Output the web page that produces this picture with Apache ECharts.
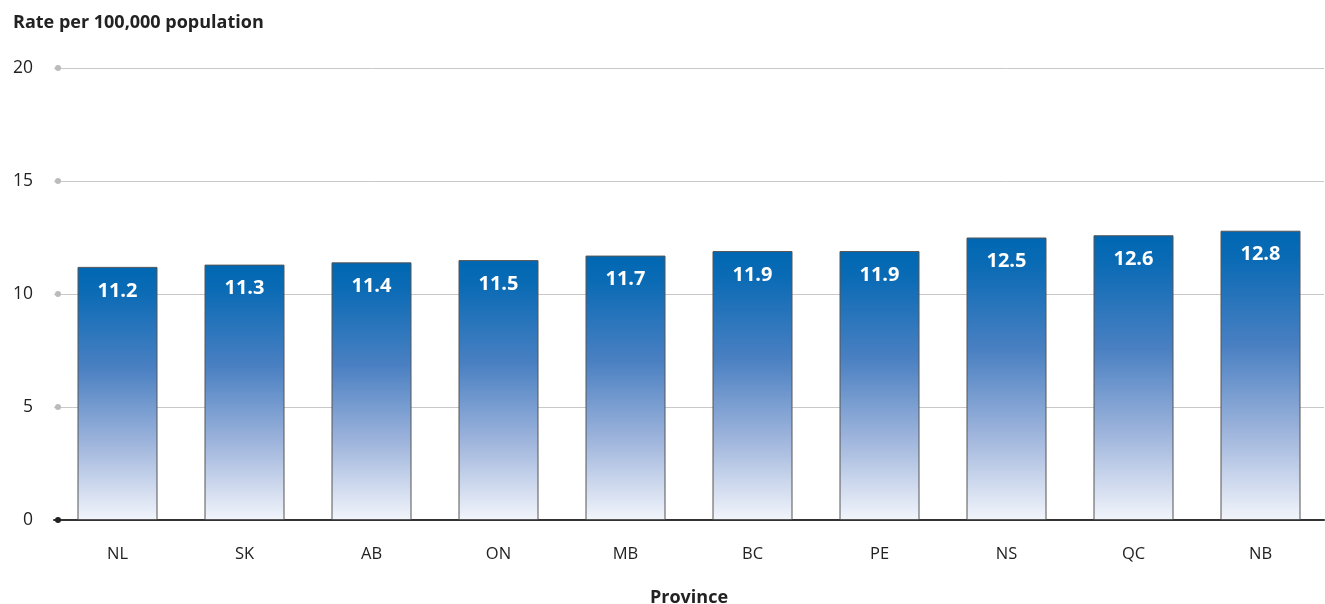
<!DOCTYPE html>
<html lang="en">
<head>
	<meta charset="utf-8">
	<title>Rate per 100,000 population</title>
	<script src="https://cdn.jsdelivr.net/npm/echarts@6/dist/echarts.min.js"></script>
</head>
<style>
	html,body{width: 100%; height: 100%; padding: 0; margin: 0; overflow: hidden; background: #fff;}
	.main{width: 1325px; height: 604px;}
</style>
<body>
	<div id="main" class="main"></div>
</body>
<script type="text/javascript">
	var provinces = ['NL', 'SK', 'AB', 'ON', 'MB', 'BC', 'PE', 'NS', 'QC', 'NB'];
	var rates = [11.2, 11.3, 11.4, 11.5, 11.7, 11.9, 11.9, 12.5, 12.6, 12.8];
	var yTicks = [0, 5, 10, 15, 20];

	var font = '"Open Sans", Lato, sans-serif';
	var myChart = echarts.init(document.getElementById('main'));
	var option = {
		animation: false,
		textStyle: {fontFamily: font},
		title: {
			text: 'Rate per 100,000 population',
			left: 8, top: 9,
			textStyle: {fontSize: 18, fontWeight: 'bold', color: '#222', fontFamily: font}
		},
		grid: {left: 54, right: 1, top: 68, bottom: 84, outerBoundsMode: 'none', containLabel: false},
		xAxis: {
			type: 'category',
			data: provinces,
			name: 'Province',
			nameLocation: 'middle',
			nameGap: 69,
			nameTextStyle: {fontSize: 18, fontWeight: 'bold', color: '#222'},
			axisLine: {lineStyle: {color: '#333', width: 2}},
			axisTick: {show: false},
			axisLabel: {fontSize: 16.5, color: '#222', margin: 26}
		},
		yAxis: {
			type: 'value',
			min: 0, max: 20, interval: 5,
			axisLine: {show: false},
			axisTick: {show: false},
			axisLabel: {fontSize: 17.5, color: '#222', margin: 21},
			splitLine: {lineStyle: {color: '#c8c8c8', width: 1}}
		},
		series: [{
			type: 'bar',
			data: rates,
			barWidth: 80,
			itemStyle: {
				borderColor: '#555',
				borderWidth: 1,
				color: new echarts.graphic.LinearGradient(0, 0, 0, 1, [
					{offset: 0, color: '#0067b2'},
					{offset: 0.1, color: '#0b6bb5'},
					{offset: 0.4, color: '#4a80c2'},
					{offset: 0.7, color: '#9fb5dc'},
					{offset: 1, color: '#f2f5fb'}
				])
			},
			label: {
				show: true,
				position: 'insideTop',
				distance: 14,
				color: '#fff',
				fontSize: 20,
				fontWeight: 'bold',
				formatter: function (p) { return p.value.toFixed(1); }
			}
		}]
	};
	myChart.setOption(option);

	// small dots at the start of each gridline
	var dots = yTicks.map(function (v) {
		var y = myChart.convertToPixel({yAxisIndex: 0}, v);
		return {
			type: 'circle',
			shape: {cx: 58, cy: y, r: 3},
			style: {fill: v === 0 ? '#222' : '#bbb'},
			z: 10
		};
	});
	myChart.setOption({graphic: dots});
</script>
</html>
